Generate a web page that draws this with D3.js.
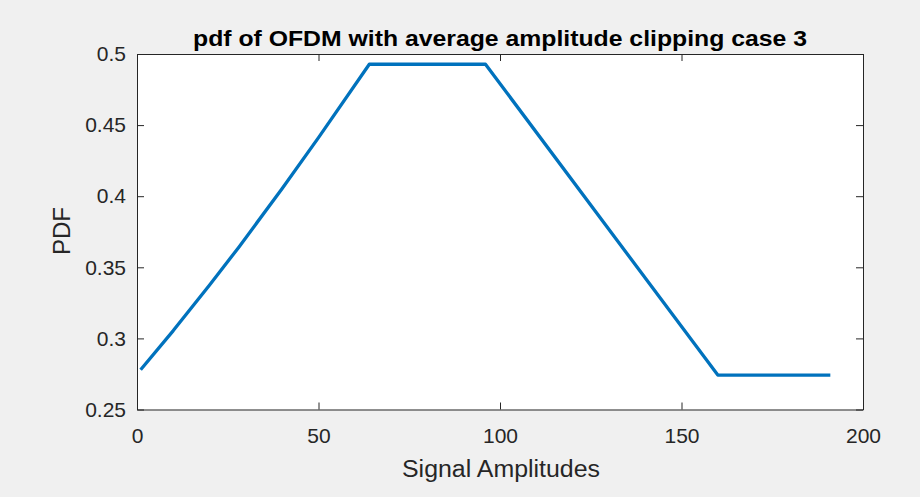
<!DOCTYPE html>
<html><head><meta charset="utf-8">
<script src="https://cdn.jsdelivr.net/npm/d3@7"></script>
<style>
html,body{margin:0;padding:0;background:#f0f0f0;}
svg{display:block;}
text{font-family:"Liberation Sans",Arial,Helvetica,sans-serif;}
</style></head>
<body>
<svg id="chart" width="920" height="497"></svg>
<script>
// Data
const amplitudes = [1, 10, 20, 28, 40, 50, 64, 96, 160, 191];
const pdfValues  = [0.278, 0.3055, 0.3375, 0.364, 0.4054, 0.4412, 0.4928, 0.4928, 0.2742, 0.2742];
const xTicks = [0, 50, 100, 150, 200];
const yTicks = [0.25, 0.3, 0.35, 0.4, 0.45, 0.5];
const yTickLabels = ["0.25", "0.3", "0.35", "0.4", "0.45", "0.5"];
const titleText = "pdf of OFDM with average amplitude clipping case 3";
const xLabel = "Signal Amplitudes";
const yLabel = "PDF";

const svg = d3.select("#chart");
const m = {left:137, right:863, top:54, bottom:409.5};
const x = d3.scaleLinear().domain([0,200]).range([m.left, m.right]);
const y = d3.scaleLinear().domain([0.25,0.5]).range([m.bottom, m.top]);
const axisColor = "#262626";

svg.append("rect").attr("width",920).attr("height",497).attr("fill","#f0f0f0");
svg.append("rect").attr("x",m.left).attr("y",m.top)
  .attr("width",m.right-m.left).attr("height",m.bottom-m.top).attr("fill","#ffffff");

const tickLen = 7;
const gx = svg.append("g").attr("transform",`translate(0,${m.bottom})`)
  .call(d3.axisBottom(x).tickValues(xTicks).tickSizeInner(-tickLen).tickSizeOuter(0).tickPadding(19));
const gxt = svg.append("g").attr("transform",`translate(0,${m.top})`)
  .call(d3.axisTop(x).tickValues(xTicks).tickSizeInner(-tickLen).tickSizeOuter(0).tickFormat(""));
const gy = svg.append("g").attr("transform",`translate(${m.left},0)`)
  .call(d3.axisLeft(y).tickValues(yTicks).tickSizeInner(-tickLen).tickSizeOuter(0).tickPadding(11)
    .tickFormat((d,i)=>yTickLabels[i]));
const gyr = svg.append("g").attr("transform",`translate(${m.right},0)`)
  .call(d3.axisRight(y).tickValues(yTicks).tickSizeInner(-tickLen).tickSizeOuter(0).tickFormat(""));

[gx,gxt,gy,gyr].forEach(g=>{
  g.select(".domain").attr("stroke",axisColor).attr("stroke-width",1);
  g.selectAll(".tick line").attr("stroke",axisColor).attr("stroke-width",1);
  g.selectAll(".tick text").attr("fill",axisColor).style("font-size","21px")
    .style("font-family","'Liberation Sans',Arial,sans-serif");
});

const line = d3.line().x((d,i)=>x(amplitudes[i])).y(d=>y(d));
svg.append("path").datum(pdfValues).attr("d",line)
  .attr("fill","none").attr("stroke","#0072BD").attr("stroke-width",3.3)
  .attr("stroke-linejoin","round");

svg.append("text").attr("x",500).attr("y",46)
  .attr("text-anchor","middle").attr("fill","#000")
  .attr("textLength",614).attr("lengthAdjust","spacingAndGlyphs")
  .style("font-size","22.5px").style("font-weight","bold").text(titleText);
svg.append("text").attr("x",501).attr("y",476.5)
  .attr("text-anchor","middle").attr("fill",axisColor)
  .attr("textLength",198).attr("lengthAdjust","spacingAndGlyphs")
  .style("font-size","23.5px").text(xLabel);
svg.append("text").attr("transform",`translate(70,231) rotate(-90)`)
  .attr("text-anchor","middle").attr("fill",axisColor)
  .style("font-size","24px").text(yLabel);
</script>
</body></html>
